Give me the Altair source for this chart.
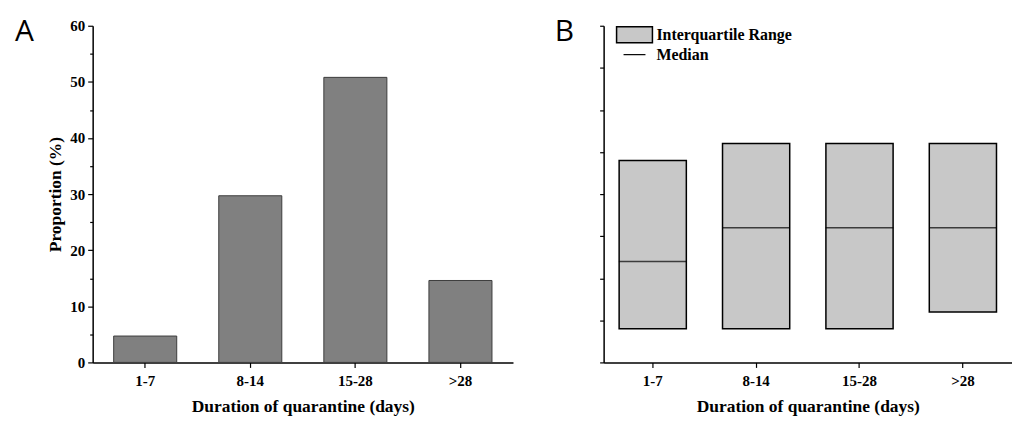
import altair as alt
import pandas as pd

categories = ["1-7", "8-14", "15-28", ">28"]
proportion = [4.7, 29.7, 50.8, 14.6]
q1 = [4, 4, 4, 6]
median = [12, 16, 16, 16]
q3 = [24, 26, 26, 26]
legend_labels = ["Interquartile Range", "Median"]

SERIF = "Liberation Serif"
dfA = pd.DataFrame({"cat": categories, "prop": proportion})
dfB = pd.DataFrame({"cat": categories, "q1": q1, "med": median, "q3": q3})

xaxis = alt.Axis(title="Duration of quarantine (days)", labelAngle=0, tickSize=5,
                 labelPadding=6, titlePadding=9)

# ---- Panel A ----
xA = alt.X("cat:N", sort=categories,
           scale=alt.Scale(paddingInner=0.4, paddingOuter=0.2), axis=xaxis)
yA = alt.Y("prop:Q", scale=alt.Scale(domain=[0, 60], nice=False),
           axis=alt.Axis(title="Proportion (%)", values=list(range(0, 61, 5)),
                         labelExpr="datum.value % 10 == 0 ? datum.label : ''",
                         tickSize={"condition": {"test": "datum.value % 10 == 0", "value": 5}, "value": 3},
                         labelPadding=3, titlePadding=5))
barsA = alt.Chart(dfA).mark_bar(fill="#808080", stroke="#3c3c3c", strokeWidth=1).encode(x=xA, y=yA)
letterA = alt.Chart(pd.DataFrame({"t": ["A"]})).mark_text(
    font="Open Sans", fontSize=30, fontWeight=500, align="left", baseline="alphabetic", color="black"
).encode(text="t:N", x=alt.value(-78), y=alt.value(15))
chartA = alt.layer(barsA, letterA).properties(width=422, height=338)

# ---- Panel B ----
xB = alt.X("cat:N", sort=categories,
           scale=alt.Scale(paddingInner=0.35, paddingOuter=0.15), axis=xaxis)
yscaleB = alt.Scale(domain=[0, 40], nice=False)
boxes = alt.Chart(dfB).mark_bar(fill="#c8c8c8", stroke="black", strokeWidth=1.5).encode(
    x=xB,
    y=alt.Y("q1:Q", scale=yscaleB,
            axis=alt.Axis(title=None, values=list(range(0, 41, 5)), labels=False, tickSize=4)),
    y2="q3:Q")
meds = alt.Chart(dfB).mark_tick(color="black", thickness=1.5, size=68).encode(
    x=alt.X("cat:N", sort=categories), y=alt.Y("med:Q", scale=yscaleB))
letterB = alt.Chart(pd.DataFrame({"t": ["B"]})).mark_text(
    font="Open Sans", fontSize=30, fontWeight=500, align="left", baseline="alphabetic", color="black"
).encode(text="t:N", x=alt.value(-49), y=alt.value(15))
legDf = pd.DataFrame({"lab": legend_labels})
legRect = alt.Chart(legDf.iloc[[0]]).mark_rect(fill="#c8c8c8", stroke="black", strokeWidth=1.5).encode(
    x=alt.value(13), x2=alt.value(49), y=alt.value(1), y2=alt.value(17))
legLine = alt.Chart(legDf.iloc[[1]]).mark_rule(color="black", strokeWidth=1.2).encode(
    x=alt.value(20), x2=alt.value(42), y=alt.value(29))
legText0 = alt.Chart(legDf.iloc[[0]]).mark_text(
    font=SERIF, fontWeight="bold", fontSize=16, align="left", baseline="middle").encode(
    text="lab:N", x=alt.value(53), y=alt.value(9))
legText1 = alt.Chart(legDf.iloc[[1]]).mark_text(
    font=SERIF, fontWeight="bold", fontSize=16, align="left", baseline="middle").encode(
    text="lab:N", x=alt.value(53), y=alt.value(29))
chartB = alt.layer(boxes, meds, letterB, legRect, legLine, legText0, legText1).properties(
    width=410, height=338)

chart = alt.hconcat(chartA, chartB, spacing=42).properties(
    padding={"left": 7, "top": 8, "right": 0, "bottom": 5}
).configure_view(stroke=None).configure_axis(
    grid=False, domainColor="black", domainWidth=1.5, tickColor="black", tickWidth=1.2,
    labelFont=SERIF, labelFontWeight="bold", labelFontSize=15, labelColor="black",
    titleFont=SERIF, titleFontWeight="bold", titleFontSize=17.5, titleColor="black"
)

chart.save("out.html", embed_options={"renderer": "svg", "actions": False})
